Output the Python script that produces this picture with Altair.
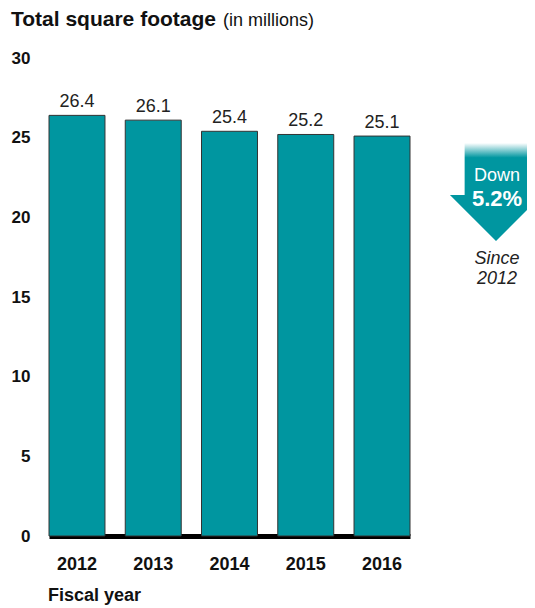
import altair as alt
import pandas as pd

# ---- data ----
years = ["2012", "2013", "2014", "2015", "2016"]
footage = [26.4, 26.1, 25.4, 25.2, 25.1]
bar_labels = ["26.4", "26.1", "25.4", "25.2", "25.1"]
y_ticks = [0, 5, 10, 15, 20, 25, 30]
title_main = ["Total square footage"]
title_sub = ["(in millions)"]
x_title = ["Fiscal year"]
arrow_word = ["Down"]
arrow_value = ["5.2%"]
since_lines = ["Since", "2012"]

TEAL = "#0096a0"
FONT = "Liberation Sans"

df = pd.DataFrame({"year": years, "value": footage, "label": bar_labels})

x_enc = alt.X(
    "year:N",
    sort=years,
    scale=alt.Scale(paddingInner=0.266, paddingOuter=0),
    axis=alt.Axis(
        title=None, labelAngle=0, labelFont=FONT, labelFontSize=18,
        labelFontWeight="bold", labelColor="#111", labelPadding=33,
        labelBaseline="alphabetic", ticks=False, domainColor="black",
        domainWidth=5,
    ),
)
y_enc = alt.Y(
    "value:Q",
    scale=alt.Scale(domain=[0, 30], nice=False),
    axis=alt.Axis(
        title=None, values=y_ticks, grid=False, ticks=False, domain=False,
        labelAlign="right", labelPadding=19, labelFont=FONT, labelFontSize=17,
        labelFontWeight="bold", labelColor="#111",
    ),
)

base = alt.Chart(df)
bars = base.mark_bar(color=TEAL, stroke="#333333", strokeWidth=1).encode(x=x_enc, y=y_enc)
labels = base.mark_text(
    dy=-8, baseline="alphabetic", font=FONT, fontSize=18, color="#222"
).encode(x=x_enc, y=y_enc, text="label:N")


def ann(texts, xv, yv, size, weight="normal", style="normal", color="#111", align="left"):
    return alt.Chart(pd.DataFrame({"t": texts})).mark_text(
        font=FONT, fontSize=size, fontWeight=weight, fontStyle=style,
        color=color, align=align, baseline="alphabetic",
    ).encode(x=alt.value(xv), y=alt.value(yv), text="t:N")


t1 = ann(title_main, -38, -32, 21, weight="bold")
t2 = ann(title_sub, 174, -32, 18)
t3 = ann(x_title, -1, 543, 18, weight="bold")

arrow_path = "M -0.64 -1 L 0.64 -1 L 0.64 0.06 L 0.94 0.06 L 0 1 L -0.94 0.06 L -0.64 0.06 Z"
arrow = alt.Chart(pd.DataFrame({"a": [1]})).mark_point(
    shape=arrow_path, size=9604, filled=True, opacity=1, strokeWidth=0,
    fill=alt.Gradient(
        gradient="linear",
        stops=[
            alt.GradientStop(color="#ffffff", offset=0),
            alt.GradientStop(color=TEAL, offset=0.15),
            alt.GradientStop(color=TEAL, offset=1),
        ],
        x1=0, x2=0, y1=0, y2=1,
    ),
).encode(x=alt.value(447), y=alt.value(134))

a1 = ann(arrow_word, 448, 123, 18, color="white", align="center")
a2 = ann(arrow_value, 448, 148, 22, weight="bold", color="white", align="center")
s1 = ann(since_lines[:1], 448, 206, 18, style="italic", color="#222", align="center")
s2 = ann(since_lines[1:], 448, 226, 18, style="italic", color="#222", align="center")

chart = alt.layer(bars, labels, t1, t2, t3, arrow, a1, a2, s1, s2).properties(
    width=361, height=478,
    background="white",
    autosize=alt.AutoSizeParams(type="none"),
    padding={"left": 41, "top": 50, "right": 117, "bottom": 70},
).configure_view(strokeWidth=0)

chart.save("out.html", embed_options={"renderer": "svg", "actions": False})
